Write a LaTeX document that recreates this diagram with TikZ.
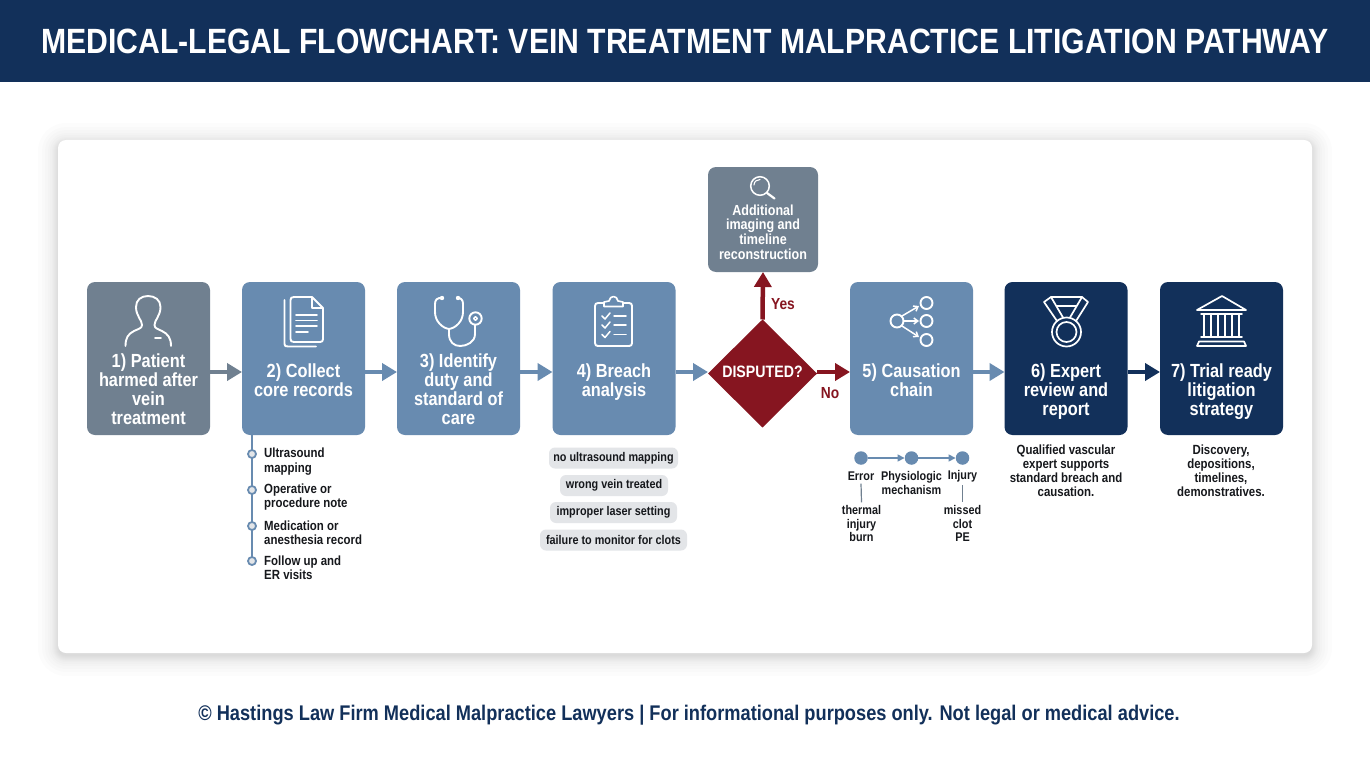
\documentclass[tikz,border=0pt]{standalone}
\usepackage{fontspec}
\setmainfont[FakeStretch=0.86]{Liberation Sans}
\usetikzlibrary{arrows.meta,shapes.geometric}
\definecolor{navy}{HTML}{12305A}
\definecolor{steel}{HTML}{688BB0}
\definecolor{slate}{HTML}{708090}
\definecolor{wine}{HTML}{861520}
\definecolor{ink}{HTML}{16181C}
\definecolor{pill}{HTML}{E3E5E8}
\newcommand{\fs}[2]{\fontsize{#1}{#2}\selectfont\bfseries}
\tikzset{
  x=1pt,y=-1pt,
  card/.style={rounded corners=8pt,minimum width=123pt,minimum height=153pt,inner sep=0pt,outer sep=0pt},
  greycard/.style={card,fill=slate},
  bluecard/.style={card,fill=steel},
  navycard/.style={card,fill=navy},
  cardtext/.style={text=white,align=center,font=\fs{19}{19},inner sep=0pt},
  flow/.style={line width=4.5pt,-{Triangle[length=15pt,width=17pt]},shorten >=0pt},
  icon/.style={draw=white,line width=1.9pt,line cap=round,line join=round},
  small/.style={text=ink,align=center,font=\fs{12.6}{13.4},inner sep=0pt},
  caption/.style={text=ink,align=center,font=\fs{13.3}{13.9},inner sep=0pt},
  listtext/.style={text=ink,align=left,anchor=west,font=\fs{13.3}{14.3},inner sep=0pt},
  pillbox/.style={fill=pill,rounded corners=6pt,text=ink,font=\fs{12.6}{14},inner sep=0pt,minimum height=21pt},
  ldot/.style={circle,draw=steel,fill=pill,line width=1.8pt,minimum size=8pt,inner sep=0pt},
  cdot/.style={circle,fill=steel,minimum size=13.5pt,inner sep=0pt},
  thin flow/.style={draw=steel,line width=1.5pt,-{Triangle[length=7pt,width=7pt]}},
  stem/.style={draw=slate,line width=1.2pt},
}
\begin{document}
\begin{tikzpicture}
\useasboundingbox (0,0) rectangle (1370,765);
\fill[white] (0,0) rectangle (1370,765);
% header
\node[fill=navy,minimum width=1370pt,minimum height=82pt,inner sep=0pt,outer sep=0pt] (header) at (685,41) {};
\node[text=white,font=\fs{35.1}{36},inner sep=0pt] (title) at (685,41) {MEDICAL-LEGAL FLOWCHART: VEIN TREATMENT MALPRACTICE LITIGATION PATHWAY};
% panel shadow
\foreach \i in {0,1,2,3,4,5,6,8,10,13,16,20} {
  \fill[black,opacity=0.012,rounded corners=8pt+\i pt] (58-\i,143-\i) rectangle (1312+\i,656+\i);
}
\fill[white,rounded corners=8pt] (58,140) rectangle (1312,653);
% cards
\node[greycard] (b1) at (148.5,358.5) {};
\node[bluecard] (b2) at (303.5,358.5) {};
\node[bluecard] (b3) at (458.5,358.5) {};
\node[bluecard] (b4) at (614,358.5) {};
\node[bluecard] (b5) at (911.5,358.5) {};
\node[navycard] (b6) at (1066,358.5) {};
\node[navycard] (b7) at (1221.5,358.5) {};
\node[greycard,minimum width=110pt,minimum height=105pt] (bx) at (763,219.5) {};
\node[diamond,fill=wine,minimum width=109pt,minimum height=108pt,inner sep=0pt,outer sep=0pt,aspect=1] (dq) at (762.5,373.5) {};
% card text
\node[cardtext] (t1) at (148.5,389.5) {1) Patient\\harmed after\\vein\\treatment};
\node[cardtext] (t2) at (303.5,380.5) {2) Collect\\core records};
\node[cardtext] (t3) at (458.5,389.5) {3) Identify\\duty and\\standard of\\care};
\node[cardtext] (t4) at (614,382.5) {4) Breach\\analysis};
\node[cardtext] (t5) at (911.5,380.5) {5) Causation\\chain};
\node[cardtext] (t6) at (1066,392) {6) Expert\\review and\\report};
\node[cardtext] (t7) at (1221.5,392) {7) Trial ready\\litigation\\strategy};
\node[cardtext,font=\fs{14.6}{14.6}] (tx) at (763,232) {Additional\\imaging and\\timeline\\reconstruction};
\node[text=white,font=\fs{16.5}{18},inner sep=0pt] (tq) at (762.5,371.5) {DISPUTED?};
% flows
\draw[flow,draw=slate] ([yshift=-13.5pt]b1.east) -- ([yshift=-13.5pt]b2.west);
\draw[flow,draw=steel] ([yshift=-13.5pt]b2.east) -- ([yshift=-13.5pt]b3.west);
\draw[flow,draw=steel] ([yshift=-13.5pt]b3.east) -- ([yshift=-13.5pt]b4.west);
\draw[flow,draw=steel] ([yshift=-13.5pt]b4.east) -- ([yshift=1.5pt]dq.west);
\draw[flow,draw=wine] (dq.north) -- (bx.south);
\draw[flow,draw=wine] ([yshift=1.5pt]dq.east) -- ([yshift=-13.5pt]b5.west);
\draw[flow,draw=steel] ([yshift=-13.5pt]b5.east) -- ([yshift=-13.5pt]b6.west);
\draw[flow,draw=navy] ([yshift=-13.5pt]b6.east) -- ([yshift=-13.5pt]b7.west);
\node[text=wine,font=\fs{16}{17},inner sep=0pt] (yes) at (783,304) {Yes};
\node[text=wine,font=\fs{16}{17},inner sep=0pt] (no) at (830,393) {No};
% list under card 2
\coordinate (lend) at (252,561);
\draw[draw=steel,line width=2pt] (b2.south -| lend) -- (lend);
\node[ldot] (d1) at (252,454) {};
\node[ldot] (d2) at (252,490) {};
\node[ldot] (d3) at (252,526) {};
\node[ldot] (d4) at (252,561) {};
\node[listtext] (l1) at (264,461.5) {Ultrasound\\mapping};
\node[listtext] (l2) at (264,497) {Operative or\\procedure note};
\node[listtext] (l3) at (264,532.5) {Medication or\\anesthesia record};
\node[listtext] (l4) at (264,568) {Follow up and\\ER visits};
% pills
\node[pillbox,minimum width=129pt] (p1) at (613.5,458) {no ultrasound mapping};
\node[pillbox,minimum width=108pt] (p2) at (614,485.5) {wrong vein treated};
\node[pillbox,minimum width=127pt] (p3) at (613.5,512.5) {improper laser setting};
\node[pillbox,minimum width=147pt] (p4) at (613.5,540) {failure to monitor for clots};
% causation chain
\node[cdot] (c1) at (861,458) {};
\node[cdot] (c2) at (911.5,458) {};
\node[cdot] (c3) at (962.5,458) {};
\draw[thin flow] (c1) -- (c2);
\draw[thin flow] (c2) -- (c3);
\node[small] (e1) at (861,476) {Error};
\node[small] (e2) at (911.5,483) {Physiologic\\mechanism};
\node[small] (e3) at (962.5,476) {Injury};
\node[small] (e4) at (861.5,523.5) {thermal\\injury\\burn};
\node[small] (e5) at (962.5,523.5) {missed\\clot\\PE};
\draw[stem] ([yshift=-3pt]e1.south) -- ([yshift=3pt]e4.north);
\draw[stem] ([yshift=-3pt]e3.south) -- ([yshift=3pt]e5.north);
% captions
\node[caption] (k6) at (1066,471) {Qualified vascular\\expert supports\\standard breach and\\causation.};
\node[caption] (k7) at (1221,471) {Discovery,\\depositions,\\timelines,\\demonstratives.};
% footer
\node[text=navy,font=\fs{21.2}{22},inner sep=0pt] (foot) at (689,715.5) {© Hastings Law Firm Medical Malpractice Lawyers | For informational purposes only. Not legal or medical advice.};
% icon: person
\draw[icon] (125.5,346) .. controls (125.5,338) and (128,334) .. (134,331) .. controls (138,329) and (142,328.5) .. (142,325) .. controls (142,320) and (136,316) .. (136,307) .. controls (136,300) and (141,296) .. (148,296) .. controls (155,296) and (160.5,300) .. (160.5,307) .. controls (160.5,316) and (154.5,320) .. (154.5,325) .. controls (154.5,328.5) and (158,329) .. (162,331) .. controls (168,334) and (171,338) .. (171,346);
\draw[icon] (155,338) -- (161,338);
% icon: document
\draw[icon] (312,297) -- (294,297) .. controls (291.5,297) and (290.5,298) .. (290.5,300) -- (290.5,339) .. controls (290.5,341) and (291.5,342) .. (294,342) -- (320,342) .. controls (322,342) and (323,341) .. (323,339) -- (323,308) -- (312,297) -- (312,308) -- (323,308);
\draw[icon] (284.5,300) -- (284.5,344) .. controls (284.5,346) and (285.5,346.5) .. (288,346.5) -- (316,346.5);
\draw[icon,line width=1.6pt] (296,315) -- (317,315) (296,320.5) -- (317,320.5) (296,326) -- (317,326) (296,332) -- (308,332);
% icon: stethoscope
\draw[icon] (442,298) .. controls (437,297.5) and (435,300) .. (435,304) -- (435,312) .. controls (435,321) and (442,328) .. (449,329) .. controls (456,328) and (463,321) .. (463,312) -- (463,304) .. controls (463,300) and (461,297.5) .. (457,298);
\draw[icon] (449,329) -- (449,334) .. controls (449,342) and (454,346) .. (460,346) .. controls (467,346) and (475,342) .. (475,334) -- (475,325);
\draw[icon] (475.5,318.5) circle (6.2);
\draw[icon,line width=1.4pt] (475.5,318.5) circle (1.8);
\fill[white] (442,298) circle (2.2) (458,298) circle (2.2);
% icon: clipboard
\draw[icon] (604,303) -- (598,303) .. controls (596,303) and (595,304) .. (595,306) -- (595,343) .. controls (595,345) and (596,346) .. (598,346) -- (629,346) .. controls (631,346) and (632,345) .. (632,343) -- (632,306) .. controls (632,304) and (631,303) .. (629,303) -- (623,303);
\draw[icon,line width=1.6pt] (604,306.5) -- (604,302) -- (609,301) .. controls (610,295) and (617,295) .. (618,301) -- (623,302) -- (623,306.5) -- cycle;
\foreach \yy in {316,325,334.5} {
  \draw[icon,line width=1.5pt] (602,\yy) -- (605,\yy+3) -- (610,\yy-3);
  \draw[icon,line width=1.5pt] (614,\yy) -- (626,\yy);
}
% icon: magnifier
\draw[icon,line width=1.5pt] (760,186) circle (9.3);
\draw[icon,line width=2.2pt] (767,193) -- (774.5,198.5);
\draw[icon,line width=1.1pt] (754,185) .. controls (754,181.5) and (757,179.5) .. (760,179.5);
% icon: network
\draw[icon] (897,321) circle (6.5);
\draw[icon] (926.5,303) circle (6);
\draw[icon] (926.5,321) circle (6);
\draw[icon] (926.5,340) circle (6);
\draw[icon,line width=1.5pt,-{Straight Barb[length=4pt,width=6pt]}] (902,316) -- (919,306);
\draw[icon,line width=1.5pt,-{Straight Barb[length=4pt,width=6pt]}] (904,321) -- (919,321);
\draw[icon,line width=1.5pt,-{Straight Barb[length=4pt,width=6pt]}] (902,326) -- (919,337);
% icon: medal
\draw[icon,line width=1.7pt] (1066.5,332) circle (14.5);
\draw[icon,line width=1.7pt] (1066.5,332) circle (10);
\draw[icon,line width=1.7pt] (1057,321) -- (1044,302) -- (1051,297) -- (1082,297) -- (1088,302) -- (1076,321);
\draw[icon,line width=1.7pt] (1051,297) -- (1063,317.5);
\draw[icon,line width=1.7pt] (1082,297) -- (1070,317.5);
\draw[icon,line width=1.7pt] (1057,306) -- (1076,306);
% icon: temple
\draw[icon,line width=1.7pt] (1197,310) -- (1222,296) -- (1246,310) -- cycle;
\draw[icon,line width=1.5pt] (1201,314) -- (1242,314);
\draw[icon,line width=1.6pt] (1204,314) -- (1204,336) (1211,314) -- (1211,336) (1218,314) -- (1218,336) (1225,314) -- (1225,336) (1232,314) -- (1232,336) (1239,314) -- (1239,336);
\draw[icon,line width=1.5pt] (1201,337) -- (1242,337);
\draw[icon,line width=1.7pt] (1197,346) -- (1199,341.5) -- (1244,341.5) -- (1246,346) -- cycle;
\end{tikzpicture}
\end{document}
